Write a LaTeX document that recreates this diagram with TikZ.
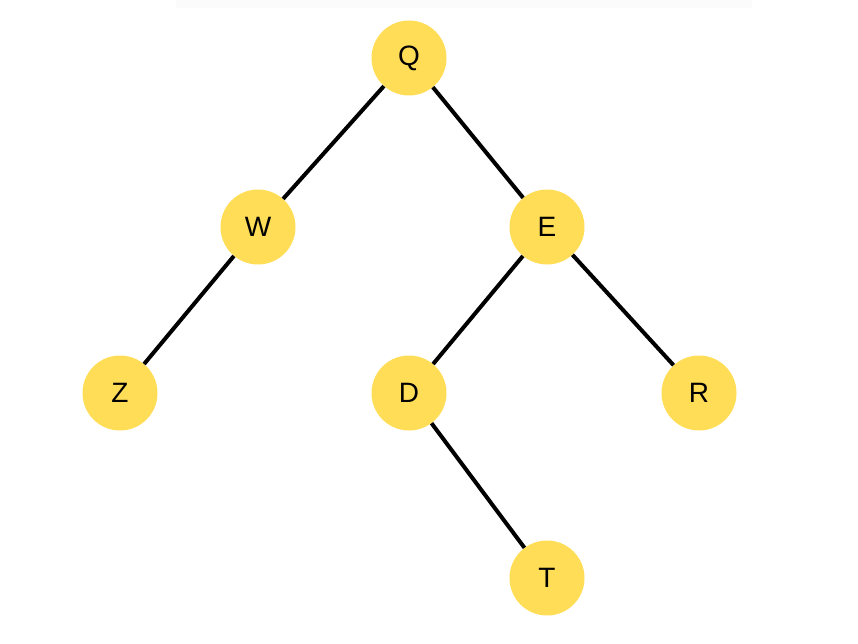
\documentclass[tikz,border=0pt]{standalone}
\usepackage{fontspec}
\setmainfont{Liberation Sans}
\definecolor{nodefill}{HTML}{FFDD57}
\definecolor{topband}{HTML}{FBFBFB}
\begin{document}
\begin{tikzpicture}[x=1pt,y=-1pt,
  treenode/.style={circle,fill=nodefill,minimum size=75pt,inner sep=0pt,font=\fontsize{28pt}{28pt}\selectfont,text=black},
  edge/.style={line width=4pt,black}]
\useasboundingbox (0,0) rectangle (858,644);
\fill[topband] (176,0) rectangle (752,8);
\node[treenode] (Q) at (409,58) {Q};
\node[treenode] (W) at (258,227) {W};
\node[treenode] (E) at (547,227) {E};
\node[treenode] (Z) at (120,393) {Z};
\node[treenode] (D) at (409,393) {D};
\node[treenode] (R) at (699,393) {R};
\node[treenode] (T) at (547,578) {T};
\draw[edge] (Q) -- (W);
\draw[edge] (Q) -- (E);
\draw[edge] (W) -- (Z);
\draw[edge] (E) -- (D);
\draw[edge] (E) -- (R);
\draw[edge] (D) -- (T);
\end{tikzpicture}
\end{document}
